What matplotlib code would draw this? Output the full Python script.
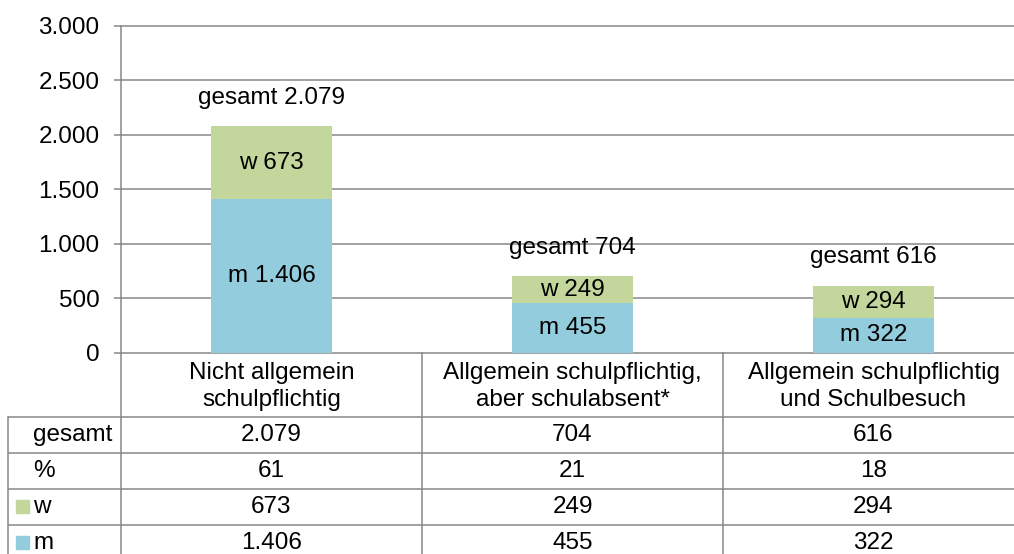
import matplotlib
matplotlib.use("Agg")
import matplotlib.pyplot as plt
from matplotlib.patches import Rectangle
import matplotlib.transforms as mtransforms

# ---- data ----
categories = ["Nicht allgemein\nschulpflichtig",
              "Allgemein schulpflichtig,\naber schulabsent*",
              "Allgemein schulpflichtig\nund Schulbesuch"]
m_values = [1406, 455, 322]
w_values = [673, 249, 294]
totals = [2079, 704, 616]
percent = [61, 21, 18]
yticks = [0, 500, 1000, 1500, 2000, 2500, 3000]
row_labels = ["gesamt", "%", "w", "m"]


def de(v):
    return f"{v:,}".replace(",", ".")


plt.rcParams['font.family'] = ['Liberation Sans', 'DejaVu Sans']
W, H = 1014, 554
FS = 17.5
GRID = '#878787'
BLUE = '#93CDDD'
GREEN = '#C3D69B'
LW = 1.1

fig = plt.figure(figsize=(W / 100, H / 100), dpi=100)

ax_left, ax_right = 121, 1024
ax_top, ax_bot = 25.7, 352.7
ax = fig.add_axes([ax_left / W, (H - ax_bot) / H,
                   (ax_right - ax_left) / W, (ax_bot - ax_top) / H])
x = list(range(len(categories)))
ax.bar(x, m_values, width=0.4, color=BLUE, zorder=2)
ax.bar(x, w_values, bottom=m_values, width=0.4, color=GREEN, zorder=2)
ax.set_xlim(-0.5, 2.5)
ax.set_ylim(0, 3000)
ax.set_yticks(yticks, [de(t) for t in yticks])
ax.yaxis.grid(True, color=GRID, lw=LW)
for gl in ax.get_ygridlines():
    gl.set_clip_on(False)
ax.set_axisbelow(True)
ax.set_xticks([])
for s in ['top', 'right', 'bottom']:
    ax.spines[s].set_visible(False)
ax.spines['left'].set_color(GRID)
ax.spines['left'].set_linewidth(LW)
ax.tick_params(axis='y', length=5, width=LW, color=GRID, pad=10.5,
               labelsize=FS)

for i in x:
    m, w, t = m_values[i], w_values[i], totals[i]
    ax.text(i, m / 2, f"m {de(m)}", ha='center', va='center', fontsize=FS, zorder=3)
    ax.text(i, m + w / 2, f"w {de(w)}", ha='center', va='center', fontsize=FS, zorder=3)
    ax.annotate(f"gesamt {de(t)}", (i, t), xytext=(0, 16),
                textcoords='offset points', ha='center', va='baseline',
                fontsize=FS)

# ---- data table ----
tab = fig.add_axes([0, 0, 1, (H - ax_bot) / H])
tab.set_xlim(0, W)
tab.set_ylim(H, ax_bot)
tab.axis('off')
blend = mtransforms.blended_transform_factory(ax.transData, tab.transData)

header_bottom = 417.3
row_h = 35.8
row_edges = [header_bottom + k * row_h for k in range(len(row_labels) + 1)]
table_left = 8

for y in row_edges:
    tab.plot([table_left, W], [y, y], color=GRID, lw=LW, clip_on=False,
             solid_capstyle='butt')
for xb in [0.5, 1.5]:
    tab.plot([xb, xb], [ax_bot, H + 10], color=GRID, lw=LW,
             transform=blend, clip_on=False)
tab.plot([-0.5, -0.5], [ax_bot, H + 10], color=GRID, lw=LW,
         transform=blend, clip_on=False)
tab.plot([table_left, table_left], [header_bottom, H + 10], color=GRID,
         lw=LW, clip_on=False)

for i, cat in enumerate(categories):
    tab.text(i, (ax_bot + header_bottom) / 2 + 1.5, cat, transform=blend,
             ha='center', va='center', fontsize=FS, linespacing=1.28,
             multialignment='center')

rows = [[de(t) for t in totals],
        [str(p) for p in percent],
        [de(v) for v in w_values],
        [de(v) for v in m_values]]
legend_colors = [None, None, GREEN, BLUE]

for r, (label, vals) in enumerate(zip(row_labels, rows)):
    yc = (row_edges[r] + row_edges[r + 1]) / 2
    tab.text(33, yc, label, ha='left', va='center', fontsize=FS)
    if legend_colors[r]:
        tab.add_patch(Rectangle((16, yc - 6.5), 13, 13, color=legend_colors[r],
                                clip_on=False))
    for i, v in enumerate(vals):
        tab.text(i, yc, v, transform=blend, ha='center', va='center',
                 fontsize=FS)

fig.savefig("out.png", dpi=100)
